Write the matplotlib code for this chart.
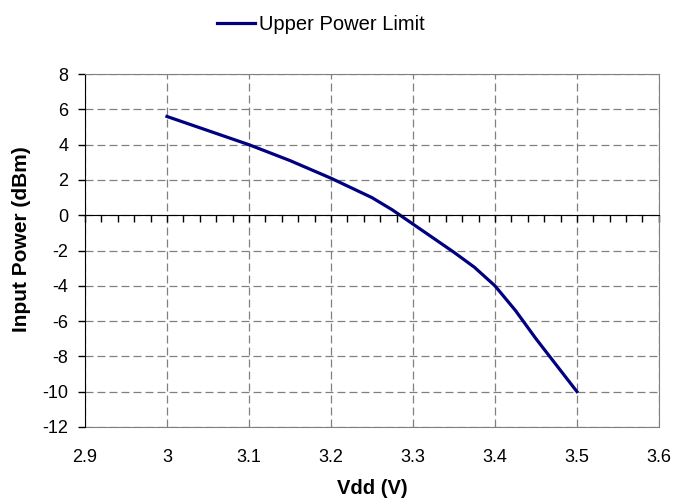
import matplotlib
matplotlib.use('Agg')
import matplotlib.pyplot as plt
from matplotlib.ticker import MultipleLocator

plt.rcParams['font.family'] = ['Liberation Sans', 'DejaVu Sans']
plt.rcParams['axes.unicode_minus'] = False

# Vdd (V) 与 输入功率上限 (dBm)
vdd = [3.0, 3.05, 3.1, 3.15, 3.2, 3.25, 3.275, 3.3, 3.35, 3.375, 3.4, 3.425, 3.45, 3.475, 3.5]
power = [5.6, 4.8, 4.0, 3.1, 2.1, 1.0, 0.3, -0.5, -2.1, -2.95, -4.0, -5.4, -7.0, -8.5, -10.0]
series_name = 'Upper Power Limit'
x_ticks = [2.9, 3.0, 3.1, 3.2, 3.3, 3.4, 3.5, 3.6]
x_labels = ['2.9', '3', '3.1', '3.2', '3.3', '3.4', '3.5', '3.6']
y_ticks = [-12, -10, -8, -6, -4, -2, 0, 2, 4, 6, 8]

fig = plt.figure(figsize=(6.76, 5.01), dpi=100)
ax = fig.add_axes([0.1257, 0.148, 0.849, 0.704])

ax.plot(vdd, power, color='#000080', lw=2.3, label=series_name)

ax.set_xlim(2.9, 3.6)
ax.set_ylim(-12, 8)
ax.set_yticks(y_ticks)
ax.set_xticks(x_ticks)
ax.xaxis.set_minor_locator(MultipleLocator(0.02))
ax.grid(True, which='major', color='#808080', linestyle=(0, (6.4, 3.2)), lw=0.9)

# 零线当作横轴
ax.spines['bottom'].set_position(('data', 0))
ax.spines['bottom'].set_color('black')
ax.spines['left'].set_color('black')
ax.spines['top'].set_color('#808080')
ax.spines['right'].set_color('#808080')
ax.tick_params(axis='x', which='both', direction='out', length=5, width=1,
               labelbottom=False)
ax.tick_params(axis='y', direction='out', length=5, width=1, labelsize=13, pad=7)

# 刻度标签放在底部
sec = ax.secondary_xaxis('bottom')
sec.set_xticks(x_ticks)
sec.set_xticklabels(x_labels)
sec.tick_params(length=0, pad=16, labelsize=13)
sec.spines['bottom'].set_color('#808080')

ax.set_ylabel('Input Power (dBm)', fontsize=15, fontweight='bold')
ax.yaxis.set_label_coords(-0.094, 0.533)
ax.set_xlabel('Vdd (V)', fontsize=14.5, fontweight='bold')
ax.xaxis.set_label_coords(0.5, -0.148)

fig.legend(loc='center left', bbox_to_anchor=(217 / 676, 1 - 25 / 501), frameon=False,
           fontsize=14.5, handlelength=1.9, handletextpad=0.2,
           borderpad=0, borderaxespad=0)

plt.savefig('out.png', dpi=100)
